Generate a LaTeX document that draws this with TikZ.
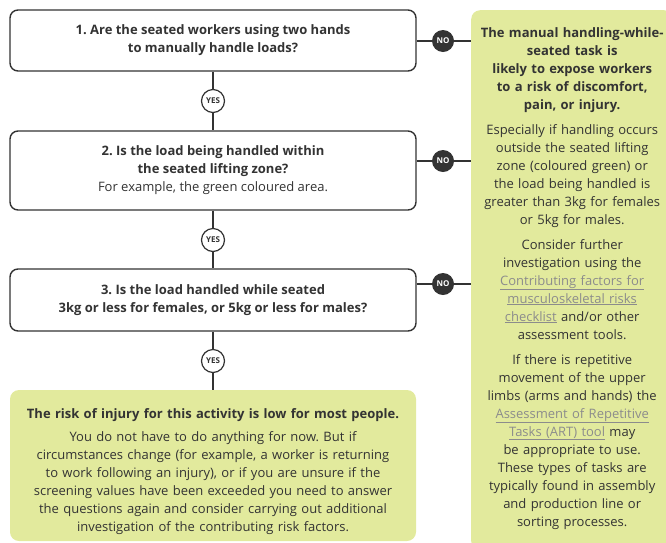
\documentclass[tikz,border=0pt]{standalone}
\usepackage{fontspec}
\setmainfont{Open Sans}
\usetikzlibrary{positioning}
\definecolor{ink}{HTML}{333333}
\definecolor{leaf}{HTML}{E2EA9D}
\definecolor{linkgray}{HTML}{8C8C8C}
\newcommand{\linktxt}[1]{\textcolor{linkgray}{\underline{#1}}}
\newcommand{\bodyfont}{\fontsize{13}{18}\selectfont}
\frenchspacing

\begin{document}
\begin{tikzpicture}[
    x=1pt, y=-1pt,
    every node/.append style={text=ink},
    question/.style={draw=ink, line width=1.4pt, rounded corners=8pt, fill=white,
        minimum width=406pt, align=center, font=\bodyfont\bfseries},
    leafbox/.style={fill=leaf, rounded corners=9pt, inner sep=0pt},
    leaftext/.style={anchor=north, align=center, inner sep=0pt, font=\bodyfont},
    yesdot/.style={circle, draw=ink, line width=1.2pt, fill=white, minimum size=23pt,
        inner sep=0pt, font=\fontsize{8}{8}\selectfont\bfseries},
    nodot/.style={circle, fill=ink, minimum size=22pt, inner sep=0pt,
        text=white, font=\fontsize{8}{8}\selectfont\bfseries},
    link/.style={draw=ink, line width=1.2pt}
]
    \useasboundingbox (0,0) rectangle (666,542);
    \clip (0,0) rectangle (666,542);

    % questions
    \node[question, minimum height=61pt] (q1) at (213,40.5)
        {1. Are the seated workers using two hands\\to manually handle loads?};
    \node[question, minimum height=79pt] (q2) at (213,170.5)
        {2. Is the load being handled within\\the seated lifting zone?\\
         {\mdseries For example, the green coloured area.}};
    \node[question, minimum height=62pt] (q3) at (213,300)
        {3. Is the load handled while seated\\3kg or less for females, or 5kg or less for males?};

    % outcomes
    \node[leafbox, minimum width=406pt, minimum height=151pt] (low) at (213,465.5) {};
    \node[leaftext, text width=400pt] (lowtxt) at ([yshift=-19pt]low.north)
        {{\bfseries The risk of injury for this activity is low for most people.}\\[5pt]
         You do not have to do anything for now. But if\\
         circumstances change (for example, a worker is returning\\
         to work following an injury), or if you are unsure if the\\
         screening values have been exceeded you need to answer\\
         the questions again and consider carrying out additional\\
         investigation of the contributing risk factors.};

    \node[leafbox, minimum width=202pt, minimum height=540pt, anchor=north west] (high) at (471,10) {};
    \node[leaftext, text width=198pt] (hightxt) at ([yshift=-17pt]high.north)
        {{\bfseries The manual handling-while-\\seated task is\\likely to expose workers\\
          to a risk of discomfort,\\pain, or injury.}\\[7pt]
         Especially if handling occurs\\outside the seated lifting\\zone (coloured green) or\\
         the load being handled is\\greater than 3kg for females\\or 5kg for males.\\[7pt]
         Consider further\\investigation using the\\\linktxt{Contributing factors for}\\
         \linktxt{musculoskeletal risks}\\\linktxt{checklist} and/or other\\assessment tools.\\[7pt]
         If there is repetitive\\movement of the upper\\limbs (arms and hands) the\\
         \linktxt{Assessment of Repetitive}\\\linktxt{Tasks (ART) tool} may\\
         be appropriate to use.\\These types of tasks are\\typically found in assembly\\
         and production line or\\sorting processes.};

    % yes branch
    \node[yesdot] (yes1) at (213,101) {YES};
    \node[yesdot] (yes2) at (213,240) {YES};
    \node[yesdot] (yes3) at (213,361) {YES};
    \draw[link] (q1) -- (yes1) -- (q2);
    \draw[link] (q2) -- (yes2) -- (q3);
    \draw[link] (q3) -- (yes3) -- (low);

    % no branch
    \node[nodot] (no1) at (443,41) {NO};
    \node[nodot] (no2) at (443,161) {NO};
    \node[nodot] (no3) at (443,284) {NO};
    \draw[link] (no1 -| q1.east) -- (no1) -- (no1 -| high.west);
    \draw[link] (no2 -| q2.east) -- (no2) -- (no2 -| high.west);
    \draw[link] (no3 -| q3.east) -- (no3) -- (no3 -| high.west);
\end{tikzpicture}
\end{document}
